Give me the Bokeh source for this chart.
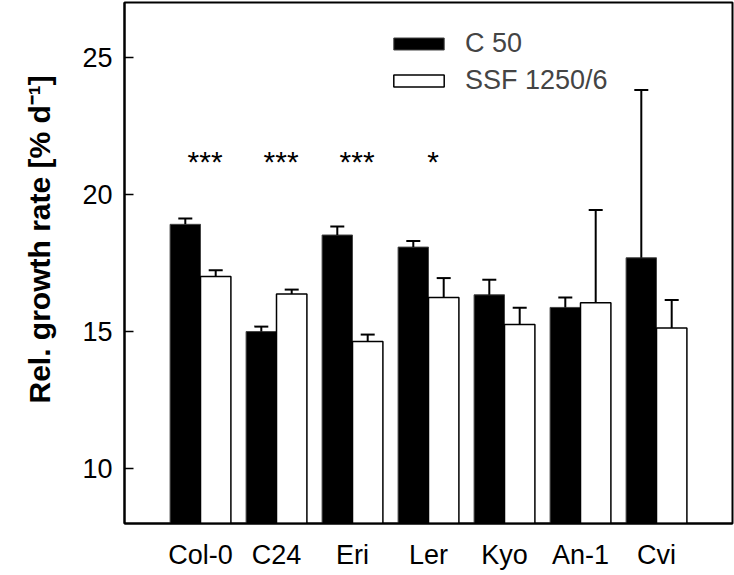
from bokeh.plotting import figure
from bokeh.models import (Range1d, FixedTicker, Whisker, TeeHead, ColumnDataSource,
                          Legend, LegendItem, Title)
from bokeh.core.properties import value
from bokeh.embed import file_html
from bokeh.resources import INLINE

# ---- data ----
accessions = ["Col-0", "C24", "Eri", "Ler", "Kyo", "An-1", "Cvi"]
c50_mean = [18.91, 15.00, 18.52, 18.08, 16.34, 15.88, 17.69]
c50_err = [0.21, 0.18, 0.31, 0.22, 0.55, 0.36, 6.12]
ssf_mean = [17.01, 16.37, 14.64, 16.24, 15.26, 16.05, 15.13]
ssf_err = [0.23, 0.16, 0.25, 0.71, 0.61, 3.38, 1.02]
significance = ["***", "***", "***", "*", "", "", ""]
sig_level = 21.2
series_names = ["C 50", "SSF 1250/6"]
y_title = "Rel. growth rate [% d\u207b\u00b9]"
y_ticks = [10, 15, 20, 25]
y_min, y_max = 8, 27

FONT = "Liberation Sans"
n = len(accessions)
pos = list(range(1, n + 1))

src = ColumnDataSource(dict(
    x_c50=[x - 0.2 for x in pos],
    x_ssf=[x + 0.2 for x in pos],
    c50=c50_mean,
    ssf=ssf_mean,
    c50_hi=[m + e for m, e in zip(c50_mean, c50_err)],
    ssf_hi=[m + e for m, e in zip(ssf_mean, ssf_err)],
))
sig_src = ColumnDataSource(dict(x=[x + 0.06 for x in pos], y=[sig_level] * n, t=significance))

p = figure(width=734, height=575, x_range=Range1d(0, n + 1), y_range=Range1d(y_min, y_max),
           output_backend="svg", toolbar_location=None,
           min_border_left=123, min_border_right=2, min_border_top=2, min_border_bottom=52)
p.background_fill_color = "white"
p.border_fill_color = "white"
p.outline_line_color = "black"
p.outline_line_width = 2
p.xgrid.visible = False
p.ygrid.visible = False

# bars
r1 = p.vbar(x="x_c50", top="c50", bottom=y_min, width=0.4, fill_color="black",
            line_color="#444444", line_width=1, source=src)
r2 = p.vbar(x="x_ssf", top="ssf", bottom=y_min, width=0.4, fill_color="white",
            line_color="black", line_width=1.5, source=src)

# error bars (upper only)
for base, lo, hi in (("x_c50", "c50", "c50_hi"), ("x_ssf", "ssf", "ssf_hi")):
    w = Whisker(base=base, lower=lo, upper=hi, source=src, dimension="height",
                line_color="black", line_width=2,
                upper_head=TeeHead(size=14, line_width=2, line_color="black"),
                lower_head=None, level="glyph")
    p.add_layout(w)

# significance stars
p.text(x="x", y="y", text="t", source=sig_src, text_align="center",
       text_baseline="alphabetic", text_font=value(FONT), text_font_size="30px",
       text_color="black")

# axes
p.yaxis.ticker = FixedTicker(ticks=y_ticks)
p.yaxis.major_tick_in = 9
p.yaxis.major_tick_out = 0
p.yaxis.minor_tick_line_color = None
p.yaxis.major_label_standoff = 12
p.yaxis.major_label_text_font = FONT
p.yaxis.major_label_text_font_size = "27px"
p.yaxis.major_label_text_color = "black"
p.yaxis.axis_line_width = 2
p.yaxis.major_tick_line_width = 1.5

p.xaxis.ticker = FixedTicker(ticks=pos)
p.xaxis.major_label_overrides = {x: a for x, a in zip(pos, accessions)}
p.xaxis.major_tick_in = 0
p.xaxis.major_tick_out = 0
p.xaxis.minor_tick_line_color = None
p.xaxis.major_label_standoff = 16
p.xaxis.major_label_text_font = FONT
p.xaxis.major_label_text_font_size = "27px"
p.xaxis.major_label_text_color = "black"
p.xaxis.axis_line_width = 2

# y axis title
p.add_layout(Title(text=y_title, align="left", offset=120, standoff=44,
                   vertical_align="top",
                   text_font=FONT, text_font_size="30px", text_font_style="bold",
                   text_color="black"), "left")

# legend
legend = Legend(items=[LegendItem(label=series_names[0], renderers=[r1]),
                       LegendItem(label=series_names[1], renderers=[r2])],
                location=(263, 427), glyph_width=63, glyph_height=15, label_standoff=15,
                spacing=6, padding=0, margin=0, border_line_color=None,
                background_fill_alpha=0, label_text_font=FONT,
                label_text_font_size="27px", label_height=15)
p.add_layout(legend)

open("out.html", "w").write(file_html(p, INLINE))
